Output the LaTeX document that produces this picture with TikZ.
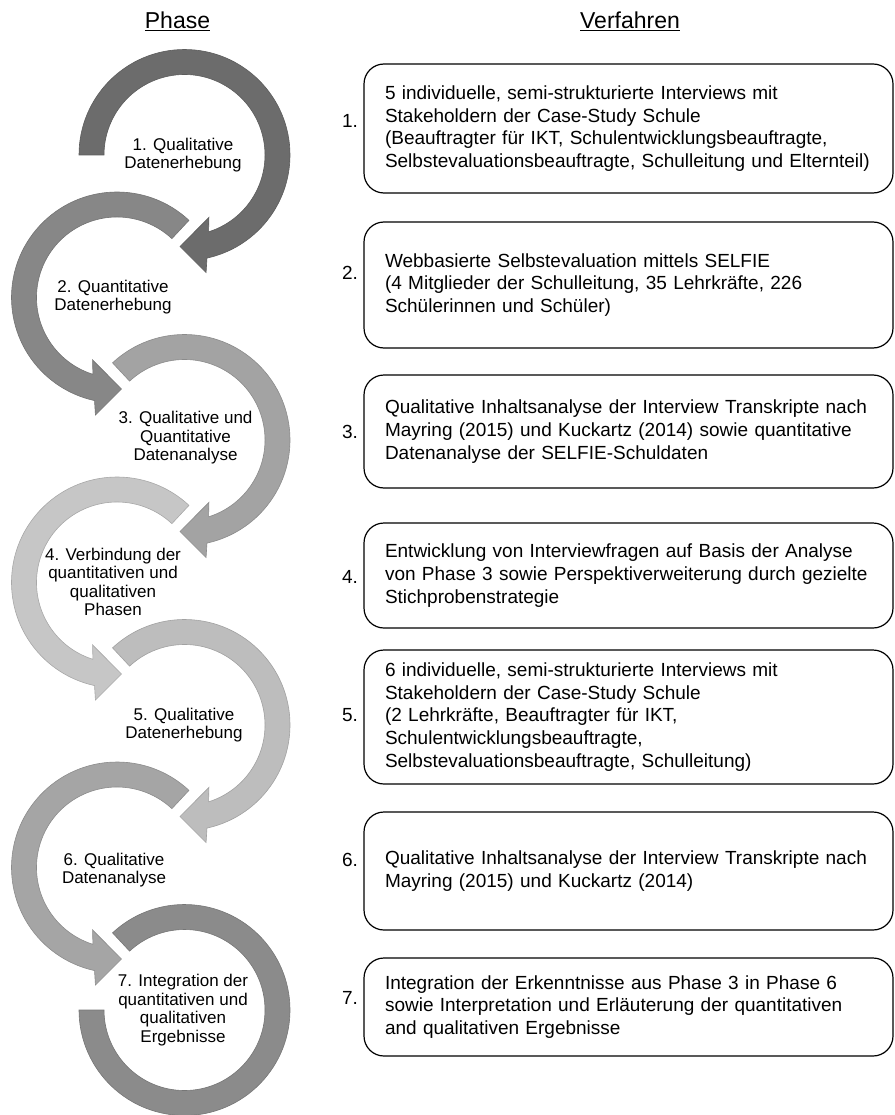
\documentclass[tikz,border=0pt]{standalone}
\usepackage{fontspec}
\setmainfont{Liberation Sans}

\definecolor{a1}{HTML}{6C6C6C}
\definecolor{a2}{HTML}{878787}
\definecolor{a3}{HTML}{A3A3A3}
\definecolor{a4}{HTML}{C6C6C6}
\definecolor{a5}{HTML}{BDBDBD}
\definecolor{a6}{HTML}{A5A5A5}
\definecolor{a7}{HTML}{8B8B8B}

\begin{document}
\begin{tikzpicture}[x=1pt, y=1pt,
	head/.style={font=\fontsize{23}{27}\selectfont},
	lbl/.style={align=center, inner sep=0pt, font=\fontsize{17}{18.6}\selectfont},
	num/.style={inner sep=0pt, font=\fontsize{19}{22.7}\selectfont},
	box/.style={draw, line width=1.2pt, rounded corners=20pt, text width=487pt, inner xsep=21pt, inner ysep=0pt, align=left, font=\fontsize{19}{22.7}\selectfont},
	pics/cwarc/.style 2 args={code={
		\filldraw[fill=#2, draw=#2!85!black, line width=0.6pt] (#1:105.5) arc[start angle=#1, end angle=-77.7, radius=105.5] -- (-79.6:119.5) -- (-92.8:91.6) -- (-68.6:67) -- (-72.6:80.5) arc[start angle=-72.6, end angle=#1, radius=80.5] -- cycle;
	}},
	pics/ccwarc/.style 2 args={code={
		\filldraw[fill=#2, draw=#2!85!black, line width=0.6pt] (#1:105.5) arc[start angle=#1, end angle=257.7, radius=105.5] -- (259.6:119.5) -- (272.8:91.6) -- (248.6:67) -- (252.6:80.5) arc[start angle=252.6, end angle=#1, radius=80.5] -- cycle;
	}}]
	\useasboundingbox (0,0) rectangle (894,-1115);
	% headers
	\node[head] (phase) at (177.5,-21) {\underline{Phase}};
	\node[head] (verf) at (630,-21) {\underline{Verfahren}};
	% circle arrows
	\pic at (184.5,-155) {cwarc={180}{a1}};
	\pic at (117,-297.5) {ccwarc={47}{a2}};
	\pic at (184.5,-440) {cwarc={133}{a3}};
	\pic at (117,-582.5) {ccwarc={47}{a4}};
	\pic at (184.5,-725) {cwarc={133}{a5}};
	\pic at (117,-867.5) {ccwarc={47}{a6}};
	\filldraw[fill=a7, draw=a7!85!black, line width=0.6pt, shift={(184.5,-1010)}] (133:105.5) arc[start angle=133, end angle=-180, radius=105.5] -- (180:80.5) arc[start angle=-180, end angle=133, radius=80.5] -- cycle;
	% phase labels
	\node[lbl] (p1) at (183,-155) {1. Qualitative\\Datenerhebung};
	\node[lbl] (p2) at (113,-297) {2. Quantitative\\Datenerhebung};
	\node[lbl] (p3) at (185.5,-438) {3. Qualitative und\\Quantitative\\Datenanalyse};
	\node[lbl] (p4) at (113,-582) {4. Verbindung der\\quantitativen und\\qualitativen\\Phasen};
	\node[lbl] (p5) at (184,-725) {5. Qualitative\\Datenerhebung};
	\node[lbl] (p6) at (114,-870) {6. Qualitative\\Datenanalyse};
	\node[lbl] (p7) at (183,-1010) {7. Integration der\\quantitativen und\\qualitativen\\Ergebnisse};
	% procedures
	\node[box, minimum height=129pt] (b1) at (628.5,-128.5) {5 individuelle, semi-strukturierte Interviews mit\\Stakeholdern der Case-Study Schule\\(Beauftragter für IKT, Schulentwicklungsbeauftragte,\\Selbstevaluationsbeauftragte, Schulleitung und Elternteil)};
	\node[box, minimum height=126pt] (b2) at (628.5,-285) {Webbasierte Selbstevaluation mittels SELFIE\\(4 Mitglieder der Schulleitung, 35 Lehrkräfte, 226\\Schülerinnen und Schüler)};
	\node[box, minimum height=113pt] (b3) at (628.5,-431.5) {Qualitative Inhaltsanalyse der Interview Transkripte nach\\Mayring (2015) und Kuckartz (2014) sowie quantitative\\Datenanalyse der SELFIE-Schuldaten};
	\node[box, minimum height=105pt] (b4) at (628.5,-575.5) {Entwicklung von Interviewfragen auf Basis der Analyse\\von Phase 3 sowie Perspektiverweiterung durch gezielte\\Stichprobenstrategie};
	\node[box, minimum height=134pt] (b5) at (628.5,-717) {6 individuelle, semi-strukturierte Interviews mit\\Stakeholdern der Case-Study Schule\\(2 Lehrkräfte, Beauftragter für IKT,\\Schulentwicklungsbeauftragte,\\Selbstevaluationsbeauftragte, Schulleitung)};
	\node[box, minimum height=118pt] (b6) at (628.5,-871) {Qualitative Inhaltsanalyse der Interview Transkripte nach\\Mayring (2015) und Kuckartz (2014)};
	\node[box, minimum height=98pt] (b7) at (628.5,-1007) {Integration der Erkenntnisse aus Phase 3 in Phase 6\\sowie Interpretation und Erläuterung der quantitativen\\and qualitativen Ergebnisse};
	% numbers
	\node[num] (n1) at (350,-121) {1.};
	\node[num] (n2) at (350,-273) {2.};
	\node[num] (n3) at (350,-432) {3.};
	\node[num] (n4) at (350,-577) {4.};
	\node[num] (n5) at (350,-715) {5.};
	\node[num] (n6) at (350,-860) {6.};
	\node[num] (n7) at (350,-998) {7.};
\end{tikzpicture}
\end{document}
